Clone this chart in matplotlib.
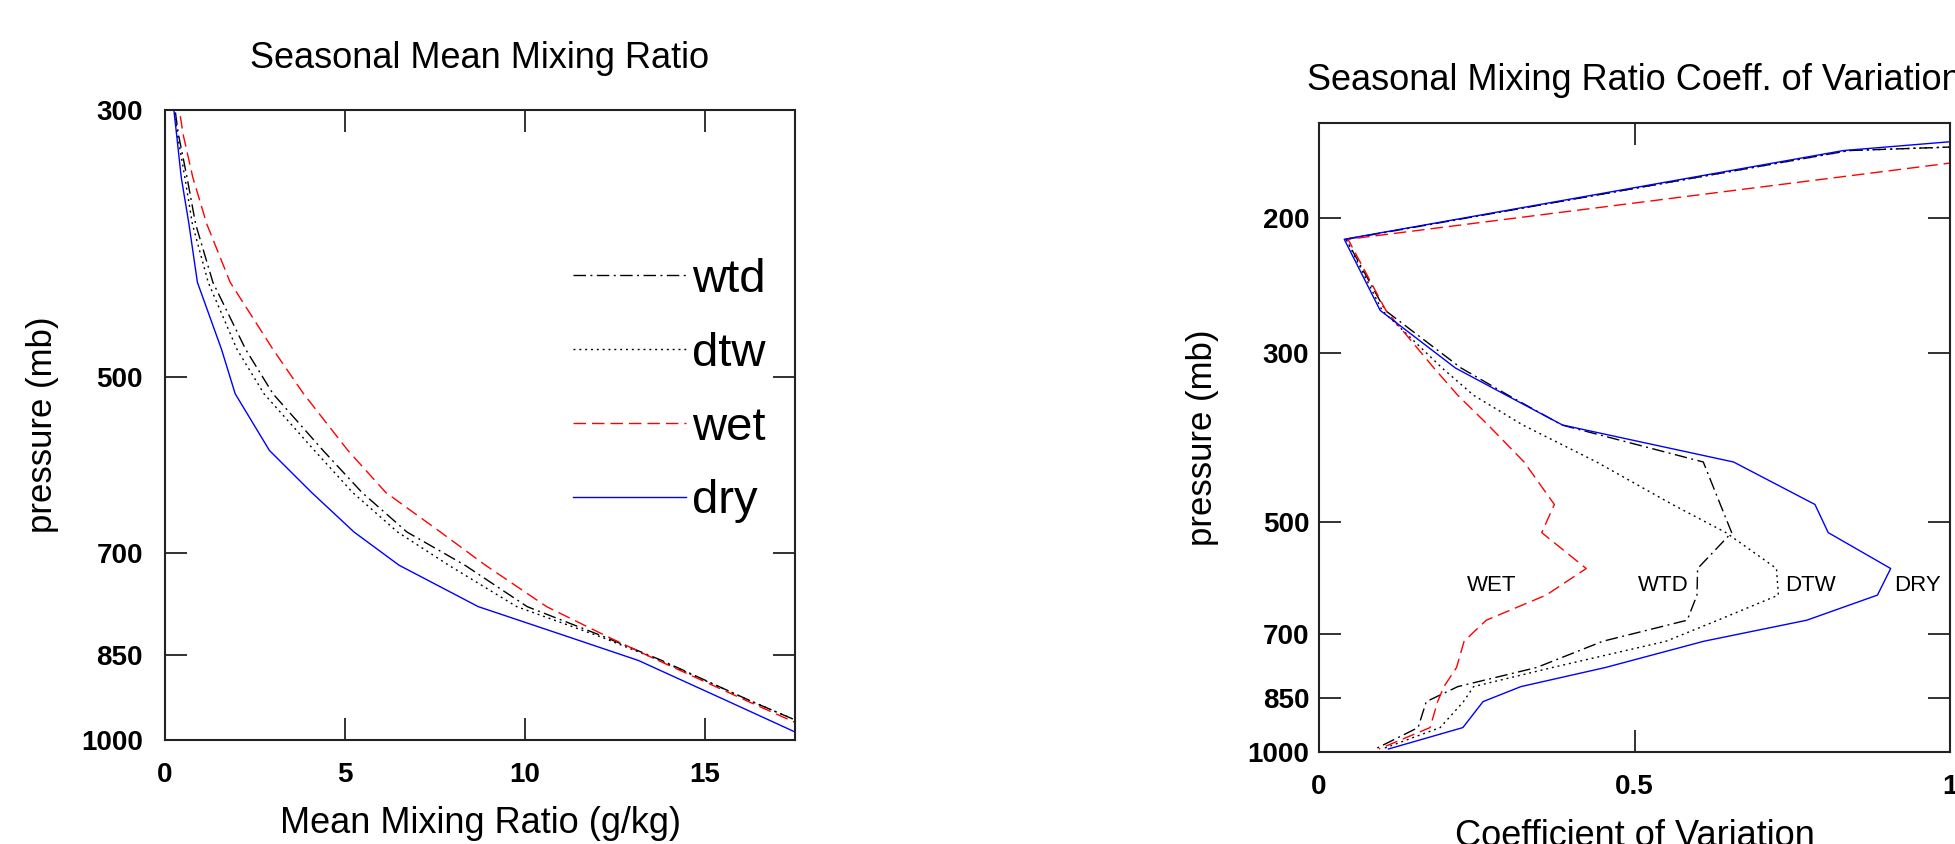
import matplotlib
matplotlib.use("Agg")
import matplotlib.pyplot as plt
from matplotlib.ticker import FixedLocator, FixedFormatter, NullLocator

plt.rcParams['font.family'] = ['Liberation Sans', 'DejaVu Sans']

# ---------------- data ----------------
mean_pressure = [264, 314, 341, 373, 417, 474, 516, 575, 623, 672, 716, 775, 821, 859, 929, 991]
wtd_mean = [0.03, 0.37, 0.61, 0.85, 1.33, 2.24, 3.0, 4.39, 5.47, 6.72, 8.33, 10.06, 12.2, 13.8, 16.3, 18.5]
dtw_mean = [0.07, 0.34, 0.55, 0.76, 1.2, 2.0, 2.75, 4.15, 5.21, 6.46, 7.88, 9.77, 12.1, 13.75, 16.3, 18.5]
wet_mean = [0.12, 0.50, 0.77, 1.16, 1.81, 3.0, 3.85, 5.08, 6.13, 7.65, 8.9, 10.6, 12.3, 13.7, 16.2, 18.3]
dry_mean = [0.04, 0.32, 0.45, 0.665, 0.90, 1.57, 1.95, 2.9, 4.07, 5.25, 6.5, 8.7, 11.2, 13.15, 15.65, 17.7]

cv_pressure = [150, 163, 213, 264, 314, 341, 373, 417, 474, 516, 575, 623, 672, 716, 775, 821, 859, 929, 991]
wtd_cv = [2.1, 0.84, 0.043, 0.105, 0.225, 0.30, 0.385, 0.609, 0.636, 0.654, 0.60, 0.599, 0.5835, 0.45, 0.345, 0.22, 0.17, 0.157, 0.089]
dtw_cv = [2.1, 0.84, 0.043, 0.10, 0.195, 0.245, 0.323, 0.44, 0.56, 0.645, 0.725, 0.728, 0.632, 0.55, 0.37, 0.245, 0.229, 0.192, 0.10]
wet_cv = [2.5, 1.157, 0.046, 0.106, 0.182, 0.22, 0.268, 0.325, 0.373, 0.353, 0.4235, 0.36, 0.265, 0.23, 0.218, 0.198, 0.188, 0.176, 0.095]
dry_cv = [1.36, 0.831, 0.040, 0.097, 0.216, 0.297, 0.386, 0.657, 0.786, 0.807, 0.906, 0.885, 0.773, 0.61, 0.454, 0.32, 0.26, 0.228, 0.11]

series_names = ['wtd', 'dtw', 'wet', 'dry']
cv_labels = ['WET', 'WTD', 'DTW', 'DRY']
cv_label_x = [0.274, 0.545, 0.779, 0.949]
cv_label_p = 616

left_yticks = [300, 500, 700, 850, 1000]
left_xticks = [0, 5, 10, 15]
right_yticks = [200, 300, 500, 700, 850, 1000]
right_xticks = [0, 0.5, 1]
right_xticklabels = ['0', '0.5', '1']

# ---------------- styles ----------------
styles = {
    'wtd': dict(color='black', lw=1.0, ls=(0, (9, 3.2, 1.4, 3.2))),
    'dtw': dict(color='black', lw=1.0, ls=(0, (1.4, 2.8))),
    'wet': dict(color='#ff0000', lw=1.0, ls=(0, (9, 4.3))),
    'dry': dict(color='#0000ff', lw=1.0, ls='-'),
}

W, H = 1955, 844
fig = plt.figure(figsize=(W / 100, H / 100), dpi=100)

def px_axes(x0, x1, ytop, ybot):
    return fig.add_axes([x0 / W, 1 - ybot / H, (x1 - x0) / W, (ybot - ytop) / H])

ax1 = px_axes(165, 795, 110, 740)
ax2 = px_axes(1319, 1950, 123, 752)

def style_axes(ax, ypad):
    for s in ax.spines.values():
        s.set_linewidth(1.5)
        s.set_color('#222222')
    ax.tick_params(which='major', direction='in', length=16, width=1.3,
                   top=True, right=True, labelsize=20, color='#222222')
    ax.tick_params(axis='x', pad=16)
    ax.tick_params(axis='y', pad=ypad)
    for lab in ax.get_xticklabels() + ax.get_yticklabels():
        lab.set_fontweight('bold')

# ---- left panel ----
mean_data = {'wtd': wtd_mean, 'dtw': dtw_mean, 'wet': wet_mean, 'dry': dry_mean}
for name in series_names:
    st = styles[name]
    ax1.plot(mean_data[name], mean_pressure, color=st['color'], lw=st['lw'],
             linestyle=st['ls'], label=name)
ax1.set_yscale('log')
ax1.set_ylim(1000, 300)
ax1.set_xlim(0, 17.5)
ax1.yaxis.set_major_locator(FixedLocator(left_yticks))
ax1.yaxis.set_major_formatter(FixedFormatter([str(v) for v in left_yticks]))
ax1.yaxis.set_minor_locator(NullLocator())
ax1.xaxis.set_major_locator(FixedLocator(left_xticks))
ax1.xaxis.set_major_formatter(FixedFormatter([str(v) for v in left_xticks]))
style_axes(ax1, 16)
ax1.set_title('Seasonal Mean Mixing Ratio', fontsize=26, pad=30)
ax1.set_xlabel('Mean Mixing Ratio (g/kg)', fontsize=26)
ax1.set_ylabel('pressure (mb)', fontsize=25)
ax1.xaxis.set_label_coords(0.5, -0.132)
ax1.xaxis.label.set_va('center')
ax1.yaxis.set_label_coords(-0.194, 0.5)
ax1.yaxis.label.set_va('center')

leg = ax1.legend(loc='upper left', bbox_to_anchor=((573 - 165) / 630, (740 - 258) / 630),
                 frameon=False, fontsize=34, handlelength=2.4, handletextpad=0.13,
                 labelspacing=0.63, borderpad=0, borderaxespad=0)

# ---- right panel ----
cv_data = {'wtd': wtd_cv, 'dtw': dtw_cv, 'wet': wet_cv, 'dry': dry_cv}
for name in series_names:
    st = styles[name]
    ax2.plot(cv_data[name], cv_pressure, color=st['color'], lw=st['lw'],
             linestyle=st['ls'])
ax2.set_yscale('log')
ax2.set_ylim(1000, 150)
ax2.set_xlim(0, 1)
ax2.yaxis.set_major_locator(FixedLocator(right_yticks))
ax2.yaxis.set_major_formatter(FixedFormatter([str(v) for v in right_yticks]))
ax2.yaxis.set_minor_locator(NullLocator())
ax2.xaxis.set_major_locator(FixedLocator(right_xticks))
ax2.xaxis.set_major_formatter(FixedFormatter(right_xticklabels))
style_axes(ax2, 7)
ax2.set_title('Seasonal Mixing Ratio Coeff. of Variation', fontsize=26, pad=24)
ax2.set_xlabel('Coefficient of Variation', fontsize=26)
ax2.set_ylabel('pressure (mb)', fontsize=25)
ax2.xaxis.set_label_coords(0.5, -0.135)
ax2.xaxis.label.set_va('center')
ax2.yaxis.set_label_coords(-0.184, 0.5)
ax2.yaxis.label.set_va('center')

for txt, xx in zip(cv_labels, cv_label_x):
    ax2.text(xx, cv_label_p, txt, fontsize=16, ha='center', va='baseline')

fig.savefig('out.png', dpi=100)
